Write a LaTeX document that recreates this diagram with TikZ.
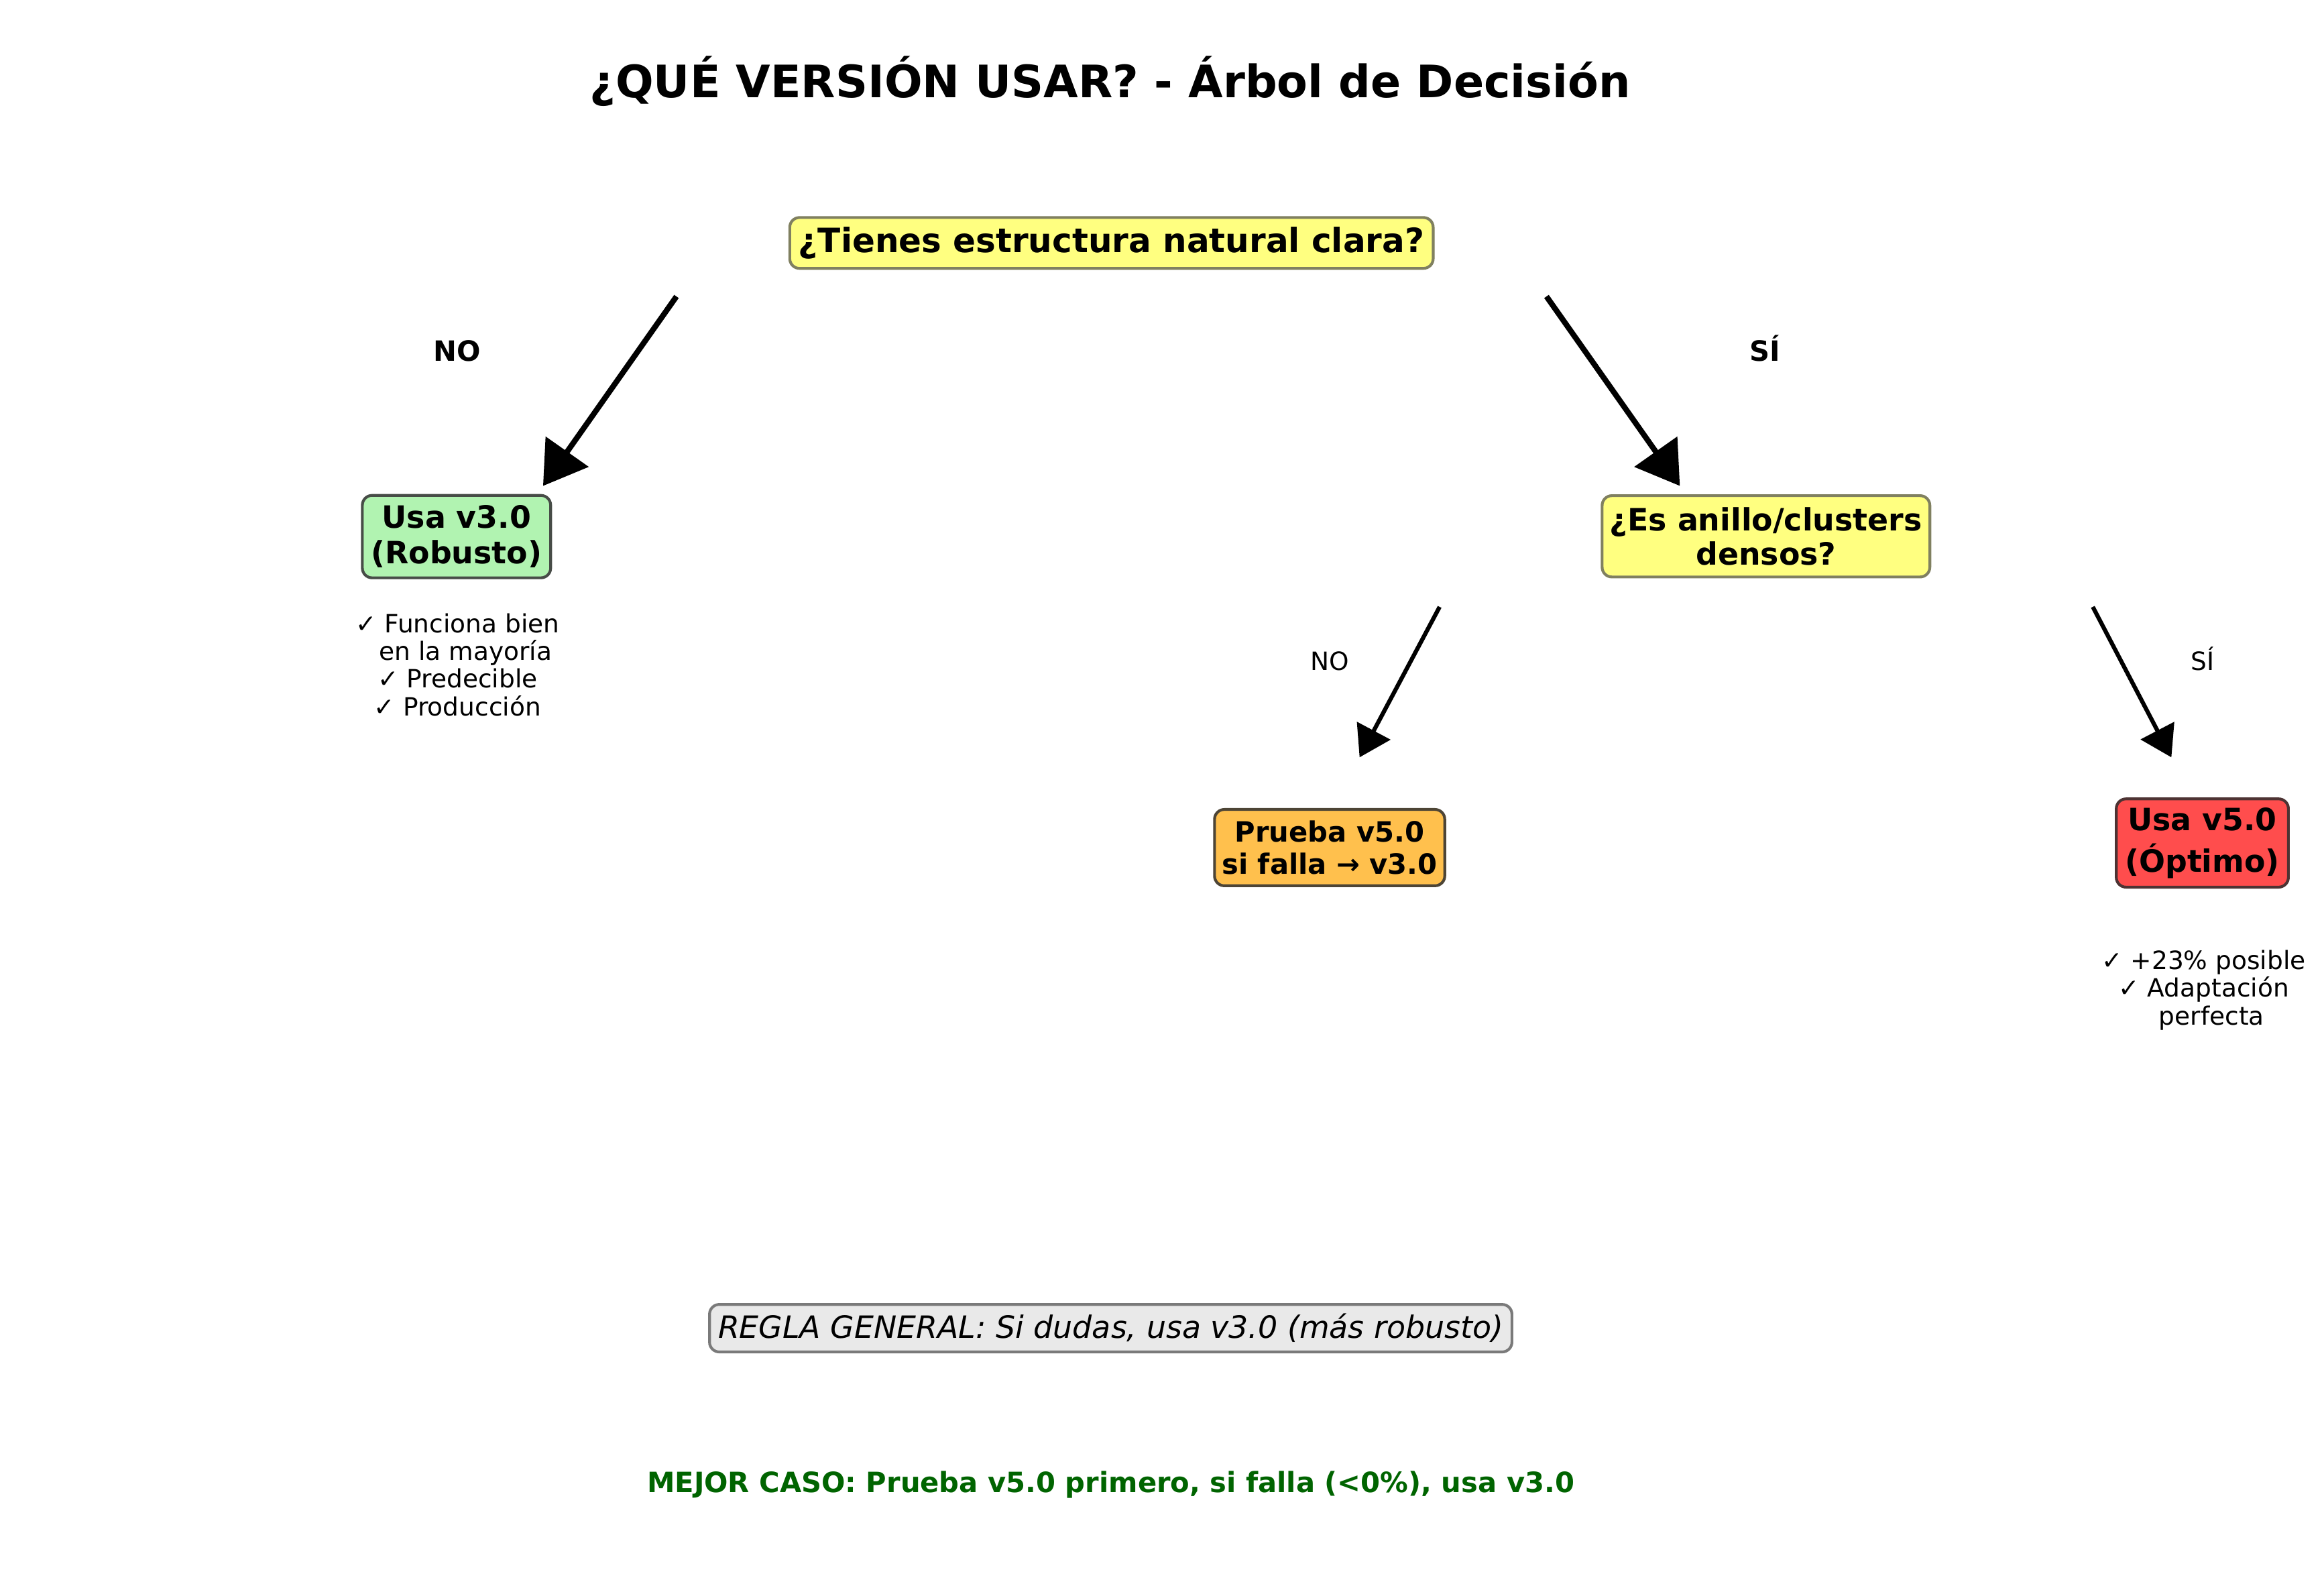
\documentclass[tikz,border=0pt]{standalone}
\usepackage{fontspec}
\setmainfont{DejaVu Sans}[BoldFont={DejaVu Sans Bold},ItalicFont={DejaVu Sans Oblique},BoldItalicFont={DejaVu Sans Bold Oblique}]
\usetikzlibrary{arrows.meta}
\definecolor{yfill}{HTML}{FFFF80}
\definecolor{yedge}{HTML}{808060}
\definecolor{gfill}{HTML}{B1F3B1}
\definecolor{gedge}{HTML}{474C47}
\definecolor{ofill}{HTML}{FFC04D}
\definecolor{oedge}{HTML}{4D4536}
\definecolor{rfill}{HTML}{FF4D4D}
\definecolor{redge}{HTML}{4D3333}
\definecolor{lgfill}{HTML}{E9E9E9}
\definecolor{lgedge}{HTML}{7A7A7A}
\definecolor{dgreen}{HTML}{006400}
\begin{document}
\begin{tikzpicture}[x=0.5305pt, y=-0.5305pt,
  box/.style={draw, rounded corners=3.5pt, line width=1pt, inner sep=0pt, align=center},
  bigarrow/.style={line width=2pt, -{Triangle[width=18.4pt,length=15pt]}},
  smallarrow/.style={line width=1.5pt, -{Triangle[width=13.3pt,length=10.8pt]}},
  lblbig/.style={inner sep=0pt, font=\fontsize{10}{12}\selectfont\bfseries},
  lblsmall/.style={inner sep=0pt, font=\fontsize{9}{11}\selectfont},
  note/.style={inner sep=0pt, align=center, font=\fontsize{9}{9.92}\selectfont}]
\fill[white] (0,0) rectangle (1568,1072.2);
\useasboundingbox (0,0) rectangle (1568,1072.2);

% title
\node[inner sep=0pt, anchor=base, font=\fontsize{16}{19}\selectfont\bfseries] (title) at (749,66) {¿QUÉ VERSIÓN USAR? - Árbol de Decisión};

% decision nodes
\node[box, fill=yfill, draw=yedge, minimum width=230.3pt, minimum height=18.2pt,
      font=\fontsize{12}{14}\selectfont\bfseries] (q1) at (749.9,163.9) {¿Tienes estructura natural clara?};
\node[box, fill=gfill, draw=gedge, minimum width=67.4pt, minimum height=29.5pt,
      font=\fontsize{11}{12.6}\selectfont\bfseries] (v3) at (308,362) {Usa v3.0\\(Robusto)};
\node[box, fill=yfill, draw=yedge, minimum width=117.3pt, minimum height=29.1pt,
      font=\fontsize{11}{12.4}\selectfont\bfseries] (q2) at (1191.5,361.8) {¿Es anillo/clusters\\densos?};
\node[box, fill=ofill, draw=oedge, minimum width=82.4pt, minimum height=27.3pt,
      font=\fontsize{10}{11.6}\selectfont\bfseries] (try) at (897.1,571.8) {Prueba v5.0\\si falla → v3.0};
\node[box, fill=rfill, draw=redge, minimum width=61.6pt, minimum height=31.6pt,
      font=\fontsize{11}{14.8}\selectfont\bfseries] (v5) at (1485.9,568.7) {Usa v5.0\\(Óptimo)};

% arrows
\coordinate (a1s) at (456.4,200);  \coordinate (a1e) at (366.4,327.8);
\coordinate (a2s) at (1043.4,200); \coordinate (a2e) at (1133.4,327.8);
\coordinate (a3s) at (971.3,409.4); \coordinate (a3e) at (917.3,510.9);
\coordinate (a4s) at (1412,409.4);  \coordinate (a4e) at (1465,510.9);
\draw[bigarrow] (a1s) -- (a1e);
\draw[bigarrow] (a2s) -- (a2e);
\draw[smallarrow] (a3s) -- (a3e);
\draw[smallarrow] (a4s) -- (a4e);

% branch labels
\node[lblbig, anchor=base] (no1) at (308.4,243.6) {NO};
\node[lblbig, anchor=base] (si1) at (1191,243.6) {SÍ};
\node[lblsmall, anchor=base] (no2) at (897.2,452.3) {NO};
\node[lblsmall, anchor=base] (si2) at (1486.1,452.3) {SÍ};

% notes
\node[note] (n1) at (308.7,448.4) {✓ Funciona bien\\\hspace*{5.7pt}en la mayoría\\✓ Predecible\\✓ Producción};
\node[note] (n2) at (1486.8,668) {✓ +23\% posible\\✓ Adaptación\\\hspace*{5.7pt}perfecta};

% bottom
\node[box, fill=lgfill, draw=lgedge, minimum width=287.2pt, minimum height=17pt,
      font=\fontsize{11}{13}\selectfont\itshape] (rule) at (749.4,896) {REGLA GENERAL: Si dudas, usa v3.0 (más robusto)};
\node[inner sep=0pt, anchor=base, text=dgreen, font=\fontsize{10}{12}\selectfont\bfseries] (best) at (749.4,1006.7) {MEJOR CASO: Prueba v5.0 primero, si falla (<0\%), usa v3.0};
\end{tikzpicture}
\end{document}
